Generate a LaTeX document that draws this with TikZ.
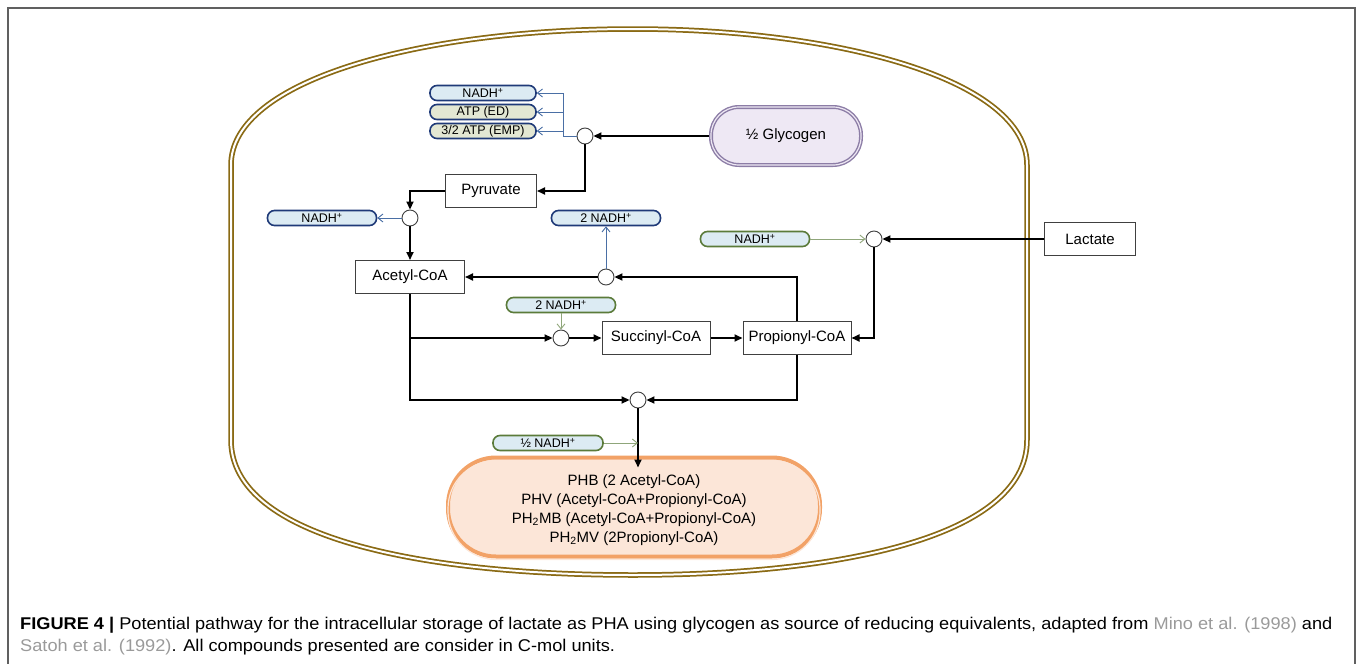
\documentclass[tikz,border=0pt]{standalone}
\usepackage{fontspec}
\setmainfont{Liberation Sans}
\usetikzlibrary{arrows.meta,calc}
\definecolor{cellc}{HTML}{8A6A14}
\definecolor{frame}{HTML}{606060}
\definecolor{pblue}{HTML}{1F3A78}
\definecolor{pfill}{HTML}{DCEBF3}
\definecolor{afill}{HTML}{E3E7D3}
\definecolor{pgreen}{HTML}{5B7B3A}
\definecolor{lblue}{HTML}{4A6FA5}
\definecolor{lgreen}{HTML}{8FA67A}
\definecolor{glyfill}{HTML}{EEE8F4}
\definecolor{glyline}{HTML}{8C7DA6}
\definecolor{phafill}{HTML}{FCE6D8}
\definecolor{phaline}{HTML}{F2A267}
\definecolor{citec}{HTML}{9A9A9A}
\tikzset{
  boxn/.style={draw=black!75, line width=1pt, fill=white, minimum height=33pt, inner sep=2pt, font=\fontsize{15}{18}\selectfont},
  pillb/.style={draw=pblue, line width=1.6pt, fill=pfill, rounded corners=7pt, minimum width=106pt, minimum height=15pt, inner sep=0pt, font=\fontsize{12.5}{13}\selectfont},
  pilla/.style={pillb, fill=afill},
  pillg/.style={pillb, draw=pgreen},
  junc/.style={circle, draw=black!75, line width=0.9pt, fill=white, minimum size=16pt, inner sep=0pt},
  flow/.style={draw=black, line width=1.8pt, -{Triangle[length=8pt,width=7pt]}},
  sideb/.style={draw=lblue, line width=0.9pt, -{Straight Barb[length=5pt,width=8pt]}},
  sidebp/.style={draw=lblue, line width=0.9pt},
  sideg/.style={draw=lgreen, line width=0.9pt, -{Straight Barb[length=5pt,width=8pt]}},
}
\begin{document}
\begin{tikzpicture}[x=1pt,y=-1pt]
\useasboundingbox (0,0) rectangle (1358,664);
% outer frame
\draw[frame, line width=1.5pt] (8,672) -- (8,8) -- (1355,8) -- (1355,672);
% cell
\draw[cellc, line width=5.5pt] (231,440) -- (231,165) .. controls (231,80) and (420,29) .. (633,29)
  .. controls (840,29) and (1027,80) .. (1027,165) -- (1027,440)
  .. controls (1027,540) and (830,575) .. (633,575) .. controls (430,575) and (231,540) .. (231,440) -- cycle;
\draw[white, line width=2pt] (231,440) -- (231,165) .. controls (231,80) and (420,29) .. (633,29)
  .. controls (840,29) and (1027,80) .. (1027,165) -- (1027,440)
  .. controls (1027,540) and (830,575) .. (633,575) .. controls (430,575) and (231,540) .. (231,440) -- cycle;

% nodes
\node[draw=glyline, line width=4pt, fill=glyfill, rounded corners=28pt, minimum width=150pt, minimum height=58pt] (gly) at (786,136) {};
\node[draw=glyfill, line width=1.2pt, rounded corners=28pt, minimum width=150pt, minimum height=58pt, font=\fontsize{15}{18}\selectfont] (glyt) at (786,136) {½ Glycogen};
\node[junc] (j1) at (585,136) {};
\node[pillb] (n1) at (483,93) {NADH\textsuperscript{+}};
\node[pilla] (a1) at (483,112) {ATP (ED)};
\node[pilla] (a2) at (483,131) {3/2 ATP (EMP)};
\node[boxn, minimum width=91pt] (pyr) at (491,191) {Pyruvate};
\node[junc] (j2) at (410,218) {};
\node[pillb, minimum width=109pt] (n2) at (322,218) {NADH\textsuperscript{+}};
\node[boxn, minimum width=109pt] (ace) at (410,277) {Acetyl-CoA};
\node[junc] (j3) at (606,277) {};
\node[pillb, minimum width=109pt] (n3) at (606,218) {2 NADH\textsuperscript{+}};
\node[pillg, minimum width=109pt] (g1) at (755,239) {NADH\textsuperscript{+}};
\node[junc] (j4) at (874,239) {};
\node[boxn, minimum width=91pt] (lac) at (1090,239) {Lactate};
\node[boxn, minimum width=108pt] (prop) at (797,338) {Propionyl-CoA};
\node[boxn, minimum width=108pt] (suc) at (656,338) {Succinyl-CoA};
\node[junc] (j5) at (561,338) {};
\node[pillg, minimum width=109pt] (g2) at (561,305) {2 NADH\textsuperscript{+}};
\node[junc] (j6) at (638,400) {};
\node[pillg, minimum width=110pt] (g3) at (548,443) {½ NADH\textsuperscript{+}};
\node[draw=phaline, line width=4pt, fill=phafill, rounded corners=48pt, minimum width=372pt, minimum height=99pt] (pha) at (634,507) {};
\node[draw=phafill, line width=1.2pt, rounded corners=48pt, minimum width=372pt, minimum height=99pt, align=center, font=\fontsize{15}{19}\selectfont] (phat) at (634,510) {PHB (2 Acetyl-CoA)\\PHV (Acetyl-CoA+Propionyl-CoA)\\PH\textsubscript{2}MB (Acetyl-CoA+Propionyl-CoA)\\PH\textsubscript{2}MV (2Propionyl-CoA)};

% connectors
\draw[flow] (gly.west) -- (j1.east);
\coordinate (bx) at (563,93);
\draw[sidebp] (j1.west) -| (bx);
\draw[sideb] (bx) -- (n1.east);
\draw[sideb] (bx |- a1) -- (a1.east);
\draw[sideb] (bx |- a2) -- (a2.east);
\draw[flow] (j1.south) |- (pyr.east);
\draw[flow] (pyr.west) -| (j2.north);
\draw[sideb] (j2.west) -- (n2.east);
\draw[flow] (j2.south) -- (ace.north);
\draw[flow] (j3.west) -- (ace.east);
\draw[flow] (prop.north) |- (j3.east);
\draw[sideb] (j3.north) -- (n3.south);
\draw[flow] (lac.west) -- (j4.east);
\draw[sideg] (g1.east) -- (j4.west);
\draw[flow] (j4.south) |- (prop.east);
\draw[flow] (ace.south) |- (j5.west);
\draw[flow] (ace.south) |- (j6.west);
\draw[sideg] (g2.south) -- (j5.north);
\draw[flow] (j5.east) -- (suc.west);
\draw[flow] (suc.east) -- (prop.west);
\draw[flow] (prop.south) |- (j6.east);
\coordinate (tip) at ($(pha.north)+(4,12)$);
\draw[flow] (j6.south) -- (tip);
\coordinate (m) at (j6 |- g3);
\draw[sideg] (g3.east) -- (m);

% caption
\node[anchor=base west, inner sep=0pt, font=\fontsize{17}{19}\selectfont] (cap1) at (20,629) {\scalebox{1.07}[1]{\textbf{FIGURE 4 |} Potential pathway for the intracellular storage of lactate as PHA using glycogen as source of reducing equivalents, adapted from \textcolor{citec}{Mino et al. (1998)} and}};
\node[anchor=base west, inner sep=0pt, font=\fontsize{17}{19}\selectfont] (cap2) at (20,651) {\scalebox{1.07}[1]{\textcolor{citec}{Satoh et al. (1992)}. All compounds presented are consider in C-mol units.}};
\end{tikzpicture}
\end{document}
